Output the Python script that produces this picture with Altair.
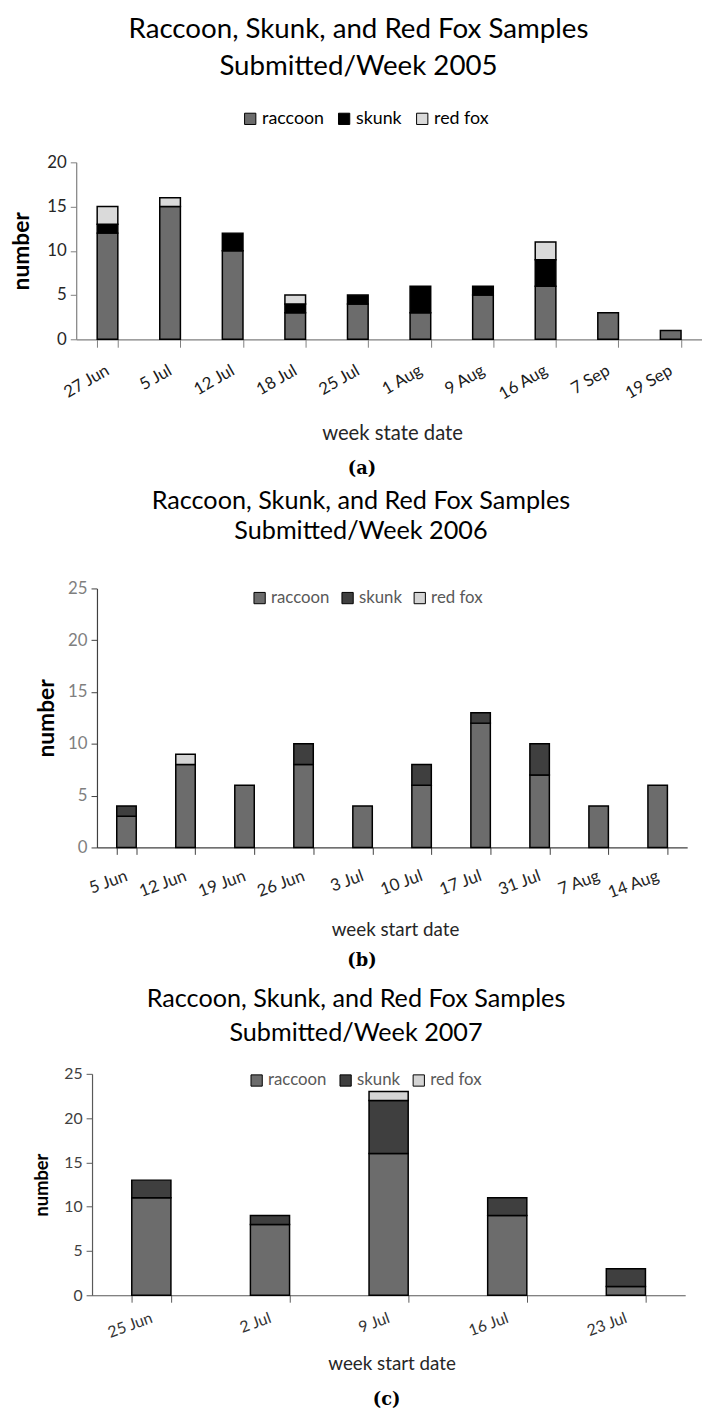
import altair as alt
import pandas as pd

species = ["raccoon", "skunk", "red fox"]

weeks_2005 = ["27 Jun", "5 Jul", "12 Jul", "18 Jul", "25 Jul", "1 Aug", "9 Aug", "16 Aug", "7 Sep", "19 Sep"]
raccoon_2005 = [12, 15, 10, 3, 4, 3, 5, 6, 3, 1]
skunk_2005 = [1, 0, 2, 1, 1, 3, 1, 3, 0, 0]
redfox_2005 = [2, 1, 0, 1, 0, 0, 0, 2, 0, 0]

weeks_2006 = ["5 Jun", "12 Jun", "19 Jun", "26 Jun", "3 Jul", "10 Jul", "17 Jul", "31 Jul", "7 Aug", "14 Aug"]
raccoon_2006 = [3, 8, 6, 8, 4, 6, 12, 7, 4, 6]
skunk_2006 = [1, 0, 0, 2, 0, 2, 1, 3, 0, 0]
redfox_2006 = [0, 1, 0, 0, 0, 0, 0, 0, 0, 0]

weeks_2007 = ["25 Jun", "2 Jul", "9 Jul", "16 Jul", "23 Jul"]
raccoon_2007 = [11, 8, 16, 9, 1]
skunk_2007 = [2, 1, 6, 2, 2]
redfox_2007 = [0, 0, 1, 0, 0]

FONT = "Lato"
LEFT = 69  # room left of the common plot origin


def make_df(weeks, rac, sk, fox):
    rows = []
    for i, w in enumerate(weeks):
        for k, vals in enumerate([rac, sk, fox]):
            rows.append({"week": w, "species": species[k], "count": vals[i], "ord": k})
    return pd.DataFrame(rows)


def panel(weeks, rac, sk, fox, *, year, caption, xoff, bandwidth, height, ymax,
          colors, title_size, sub_pad, title_offset, title_dx,
          tick_font, tick_color, domain_color, xlab_font, xlab_color, angle,
          tick_size, lab_pad, xtitle, xtitle_size, xtitle_y,
          ytitle_size, ytitle_x, leg_x, leg_y, leg_font, leg_color, leg_pad,
          cap_x, cap_y, extra_bottom=0):
    df = make_df(weeks, rac, sk, fox)
    width = xoff + bandwidth
    bars = alt.Chart(df).transform_filter("datum.count > 0").mark_bar(
        stroke="black", strokeWidth=1.5
    ).encode(
        x=alt.X("week:N", sort=weeks,
                scale=alt.Scale(paddingInner=0.67, paddingOuter=0.335,
                                range=[xoff, width]),
                axis=alt.Axis(title=xtitle, labelAngle=angle, labelAlign="right",
                              labelBaseline="middle", labelFont=FONT,
                              labelFontSize=xlab_font, labelColor=xlab_color,
                              labelPadding=lab_pad, tickBand="extent",
                              tickSize=tick_size, tickColor=domain_color,
                              domainColor=domain_color, domainWidth=1.2,
                              titleFont=FONT, titleFontSize=xtitle_size,
                              titleFontWeight="normal", titleColor="#262626",
                              titleX=xoff + bandwidth / 2 + 3,
                              titleY=xtitle_y, titleBaseline="middle")),
        y=alt.Y("count:Q", stack="zero",
                scale=alt.Scale(domain=[0, ymax], nice=False),
                axis=alt.Axis(title="number", values=list(range(0, ymax + 1, 5)),
                              offset=-xoff,
                              grid=False, labelFont=FONT, labelFontSize=tick_font,
                              labelColor=tick_color, tickSize=6,
                              tickColor=domain_color, domainColor=domain_color,
                              domainWidth=1.2, labelPadding=4,
                              titleFont=FONT, titleFontSize=ytitle_size,
                              titleFontWeight="bold", titleColor="black",
                              titleX=ytitle_x, titleBaseline="middle")),
        color=alt.Color("species:N",
                        scale=alt.Scale(domain=species, range=colors),
                        legend=alt.Legend(title=None, orient="none", legendX=leg_x,
                                          legendY=leg_y, direction="horizontal",
                                          symbolType="square", symbolSize=130,
                                          symbolStrokeColor="black",
                                          symbolStrokeWidth=1, symbolOpacity=1,
                                          labelFont=FONT, labelFontSize=leg_font,
                                          labelColor=leg_color, labelOffset=3,
                                          columnPadding=leg_pad)),
        order=alt.Order("ord:Q", sort="ascending"),
    )
    spacer = alt.Chart(alt.Data(values=[{"s": 1}])).mark_rule(opacity=0).encode(
        x=alt.value(-LEFT), y=alt.value(0), y2=alt.value(cap_y + 9 + extra_bottom)
    )
    cap = alt.Chart(alt.Data(values=[{"t": caption}])).mark_text(
        font="DejaVu Serif", fontWeight="bold", fontSize=18, color="black",
        align="center", baseline="middle"
    ).encode(text="t:N", x=alt.value(cap_x), y=alt.value(cap_y))
    return alt.layer(bars, spacer, cap).properties(
        width=width, height=height,
        title=alt.TitleParams(
            text="Raccoon, Skunk, and Red Fox Samples",
            subtitle="Submitted/Week " + year,
            font=FONT, fontSize=title_size, fontWeight="normal", color="black",
            subtitleFont=FONT, subtitleFontSize=title_size,
            subtitleFontWeight="normal", subtitleColor="black",
            subtitlePadding=sub_pad, frame="group",
            anchor="middle", offset=title_offset, dx=title_dx),
    )


pa = panel(weeks_2005, raccoon_2005, skunk_2005, redfox_2005,
           year="2005", caption="(a)", xoff=0, bandwidth=633, height=179, ymax=20,
           colors=["#6c6c6c", "#000000", "#dadada"],
           title_size=28, sub_pad=10, title_offset=29, title_dx=-31,
           tick_font=17, tick_color="#262626", domain_color="#7f7f7f",
           xlab_font=17, xlab_color="#1a1a1a", angle=-30, tick_size=8, lab_pad=22,
           xtitle="week state date", xtitle_size=20.5, xtitle_y=95,
           ytitle_size=23, ytitle_x=-55, leg_x=167, leg_y=-53, leg_font=18,
           leg_color="#000000", leg_pad=11, cap_x=289, cap_y=310)

pb = panel(weeks_2006, raccoon_2006, skunk_2006, redfox_2006,
           year="2006", caption="(b)", xoff=21, bandwidth=597, height=262, ymax=25,
           colors=["#6c6c6c", "#3f3f3f", "#d4d4d4"],
           title_size=25.5, sub_pad=4, title_offset=36, title_dx=-21,
           tick_font=17, tick_color="#7f7f7f", domain_color="#404040",
           xlab_font=17, xlab_color="#262626", angle=-20, tick_size=7, lab_pad=21,
           xtitle="week start date", xtitle_size=19, xtitle_y=83,
           ytitle_size=23, ytitle_x=-51, leg_x=177, leg_y=1, leg_font=17,
           leg_color="#595959", leg_pad=9, cap_x=289, cap_y=377, extra_bottom=5)

pc = panel(weeks_2007, raccoon_2007, skunk_2007, redfox_2007,
           year="2007", caption="(c)", xoff=16, bandwidth=600, height=224, ymax=25,
           colors=["#6c6c6c", "#3f3f3f", "#d4d4d4"],
           title_size=25.5, sub_pad=9, title_offset=20, title_dx=-25,
           tick_font=16, tick_color="#404040", domain_color="#595959",
           xlab_font=16, xlab_color="#333333", angle=-20, tick_size=7, lab_pad=15,
           xtitle="week start date", xtitle_size=19, xtitle_y=69,
           ytitle_size=18.5, ytitle_x=-51, leg_x=174, leg_y=-2, leg_font=17,
           leg_color="#595959", leg_pad=10, cap_x=314, cap_y=330)

chart = alt.vconcat(pa, pb, pc, spacing=12).resolve_scale(
    color="independent", x="independent", y="independent"
).resolve_legend(color="independent").properties(
    padding=0, background="white"
).configure_view(stroke=None)

chart.save("out.html", embed_options={"renderer": "svg", "actions": False})
